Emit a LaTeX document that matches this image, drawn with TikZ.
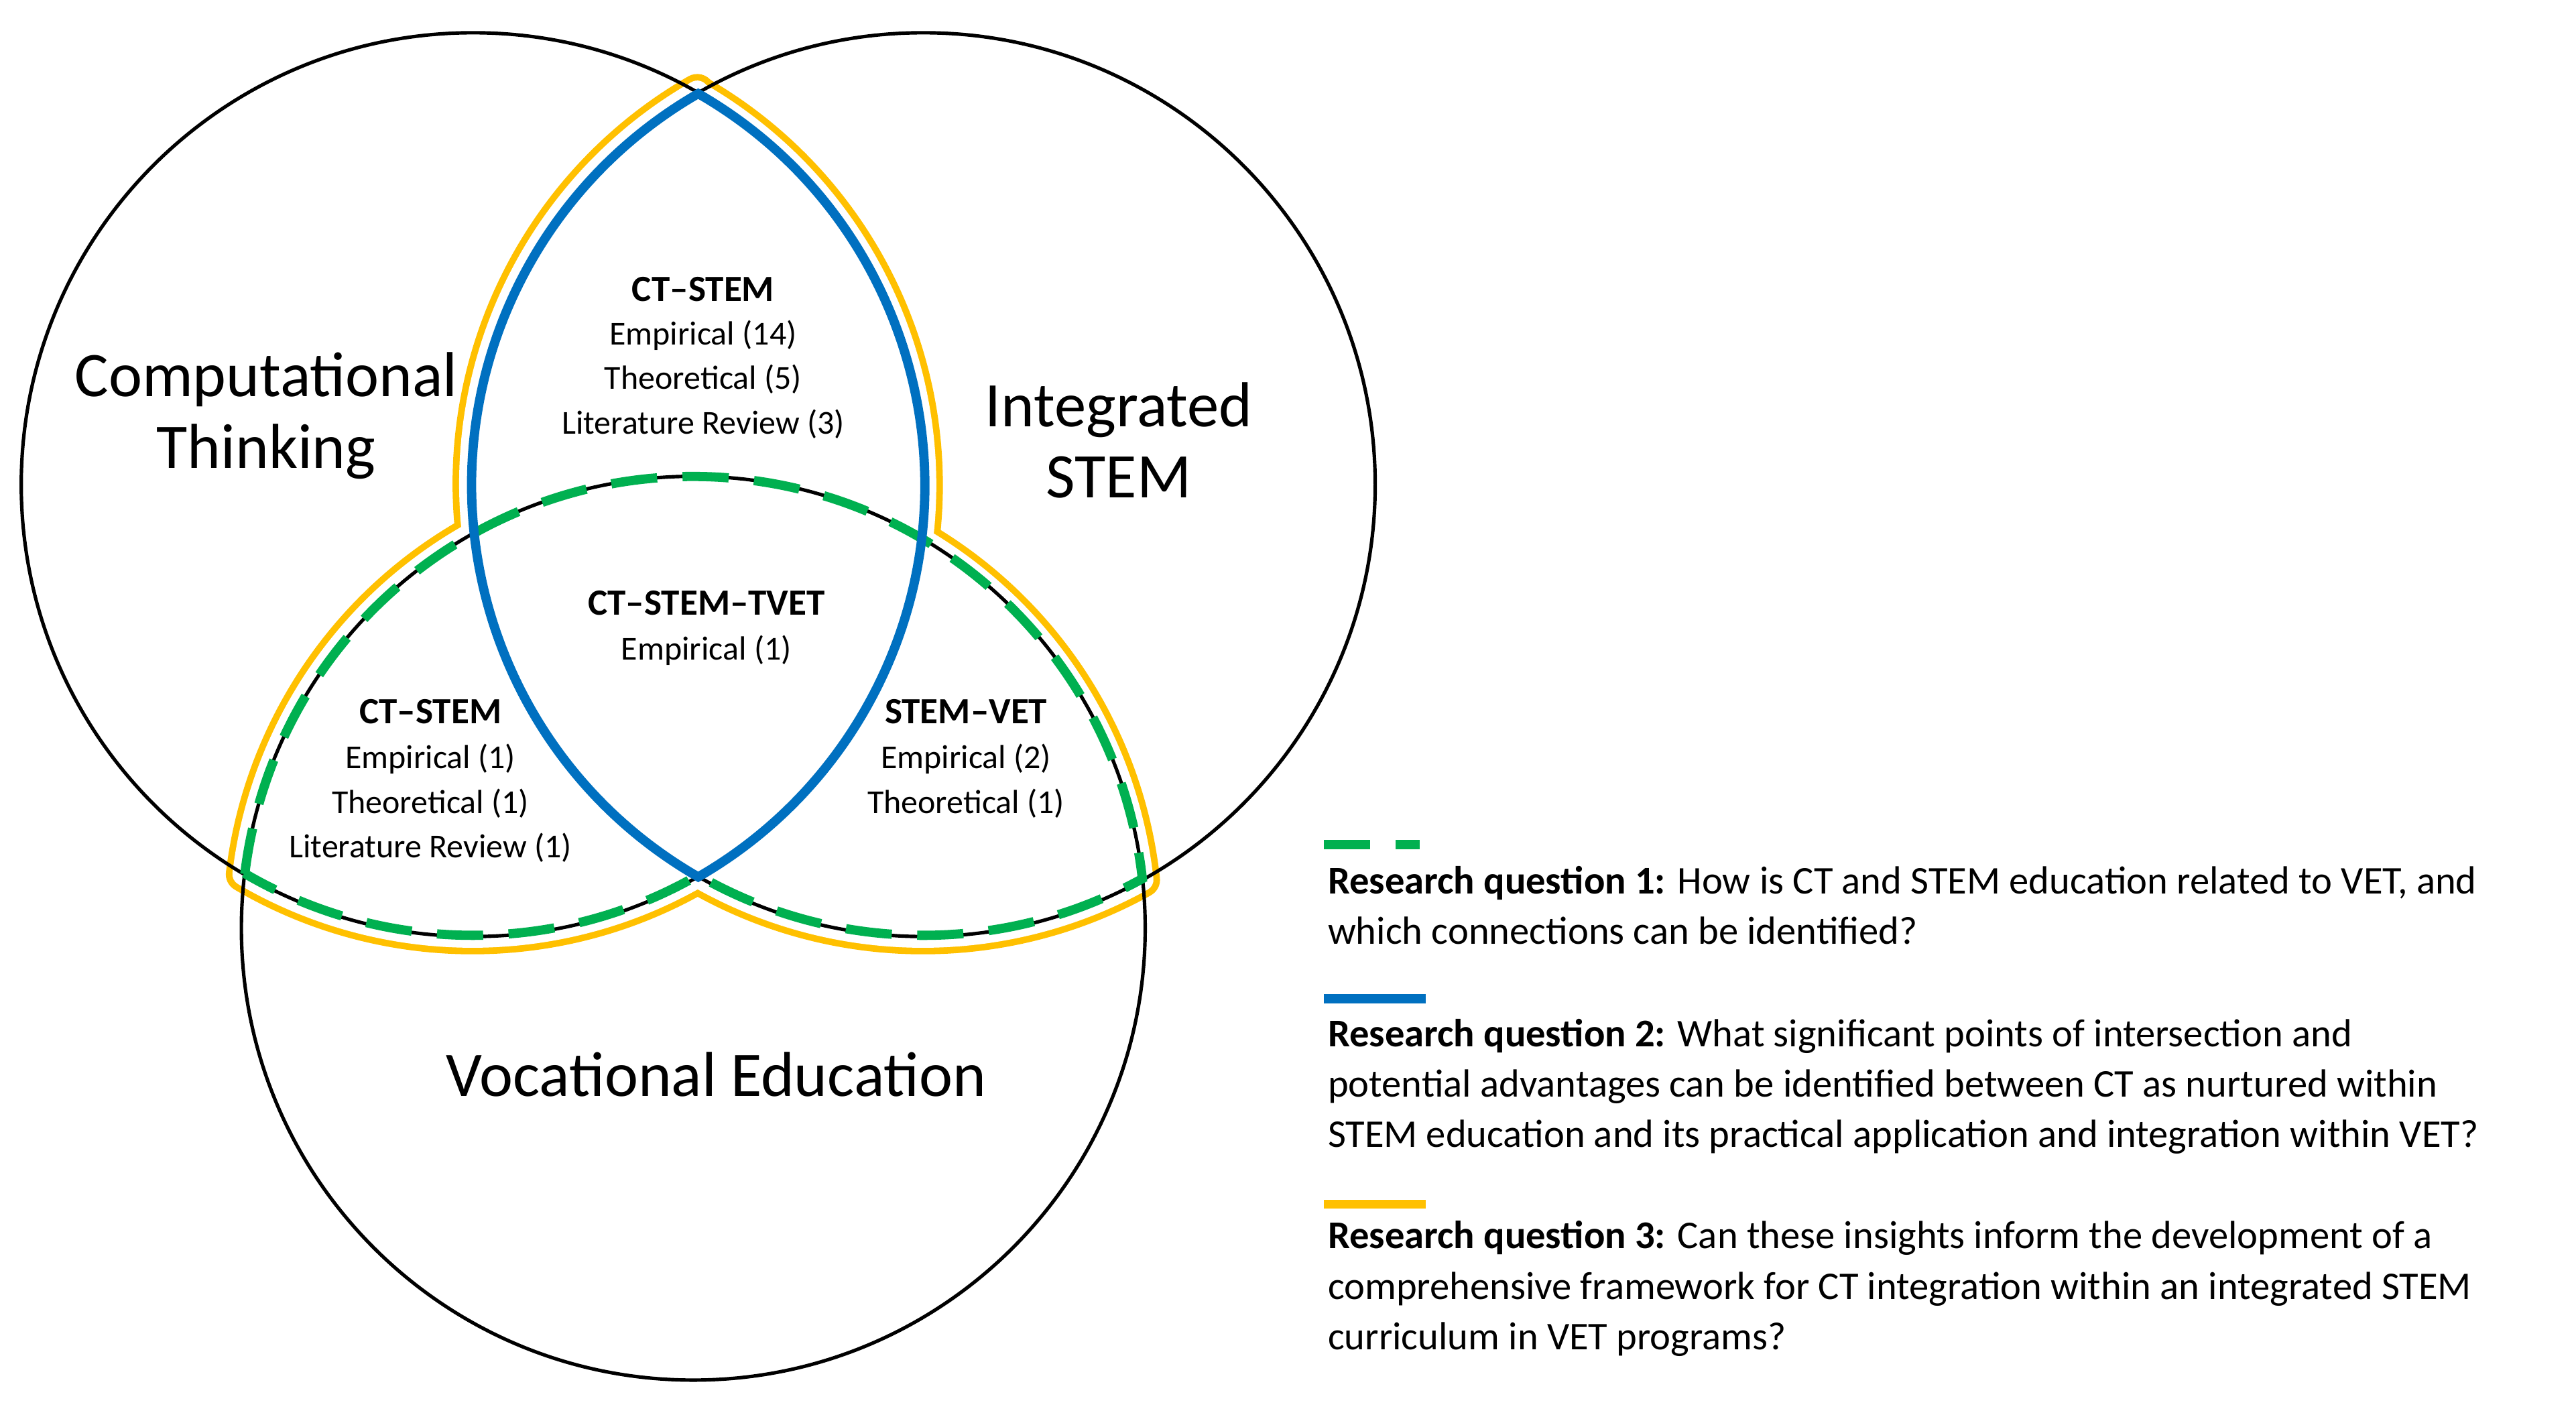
\documentclass[tikz,border=0pt]{standalone}
\usepackage{fontspec}
\setmainfont{Carlito}
\begin{document}
\begin{tikzpicture}[x=0.025cm,y=-0.025cm,
  circ/.style={draw=black,line width=1.5},
  big/.style={font=\fontsize{27.5}{31}\selectfont,align=center},
  hd/.style={font=\fontsize{16}{18}\selectfont\bfseries},
  bd/.style={font=\fontsize{14.5}{19.3}\selectfont,align=center},
  lg/.style={font=\fontsize{17}{21.8}\selectfont,align=left,anchor=north west,inner sep=0},
  ycol/.style={line width=4pt}]
\definecolor{gr}{RGB}{0,176,80}
\definecolor{bl}{RGB}{0,112,192}
\definecolor{ye}{RGB}{255,192,0}
\useasboundingbox (0,0) rectangle (1568,861);
\def\region{(425,57) arc[start angle=-60.1,end angle=6.9,radius=275]
  arc[start angle=-59.6,end angle=-6.3,radius=275]
  arc[start angle=61.0,end angle=119.9,radius=275]
  arc[start angle=60.1,end angle=120.4,radius=275]
  arc[start angle=186.9,end angle=241.0,radius=275]
  arc[start angle=173.7,end angle=240.1,radius=275] -- cycle}
% yellow outline (offset outward)
\draw[ye,line width=0.55cm,line join=round] \region;
\draw[white,line width=0.35cm,line join=round] \region;
\fill[white] \region;
% circles
\node[circle,circ,minimum size=13.75cm,inner sep=0] (ct) at (288,295) {};
\node[circle,circ,minimum size=13.75cm,inner sep=0] (st) at (562,295) {};
\node[circle,circ,minimum size=13.75cm,inner sep=0] (ve) at (422,565) {};
% green dashed
\draw[gr,line width=4pt,dash pattern=on 20pt off 11pt] (149,532) arc[start angle=186.9,end angle=353.7,radius=275]
  arc[start angle=61.0,end angle=119.9,radius=275]
  arc[start angle=60.1,end angle=120.4,radius=275];
% blue lens
\draw[bl,line width=4pt] (425,57) arc[start angle=-60.1,end angle=60.1,radius=275]
  arc[start angle=119.9,end angle=240.1,radius=275] -- cycle;
% big labels
\node[big] (tct) at (162,253) {Computational\\Thinking};
\node[big] (tst) at (681,268) {Integrated\\STEM};
\node[big] (tve) at (436,654) {Vocational Education};
% region labels
\node[hd] (h1) at (428,176) {CT–STEM};
\node[bd,anchor=north] (b1) at (428,190) {Empirical (14)\\Theoretical (5)\\Literature Review (3)};
\node[hd] (h2) at (430,367) {CT–STEM–TVET};
\node[bd,anchor=north] (b2) at (430,382) {Empirical (1)};
\node[hd] (h3) at (262,433) {CT–STEM};
\node[bd,anchor=north] (b3) at (262,448) {Empirical (1)\\Theoretical (1)\\Literature Review (1)};
\node[hd] (h4) at (588,433) {STEM–VET};
\node[bd,anchor=north] (b4) at (588,448) {Empirical (2)\\Theoretical (1)};
% legend
\coordinate (g1) at (806,514); \coordinate (g2) at (864,514);
\draw[gr,line width=4pt,dash pattern=on 20pt off 11pt] (g1) -- (g2);
\coordinate (c1) at (806,608); \coordinate (c2) at (868,608);
\draw[bl,line width=4pt] (c1) -- (c2);
\coordinate (y1) at (806,733); \coordinate (y2) at (868,733);
\draw[ye,line width=4pt] (y1) -- (y2);
\node[lg] (l1) at (808,527) {\textbf{Research question 1:} How is CT and STEM education related to VET, and\\which connections can be identified?};
\node[lg] (l2) at (808,620) {\textbf{Research question 2:} What significant points of intersection and\\potential advantages can be identified between CT as nurtured within\\STEM education and its practical application and integration within VET?};
\node[lg] (l3) at (808,743) {\textbf{Research question 3:} Can these insights inform the development of a\\comprehensive framework for CT integration within an integrated STEM\\curriculum in VET programs?};
\end{tikzpicture}
\end{document}
